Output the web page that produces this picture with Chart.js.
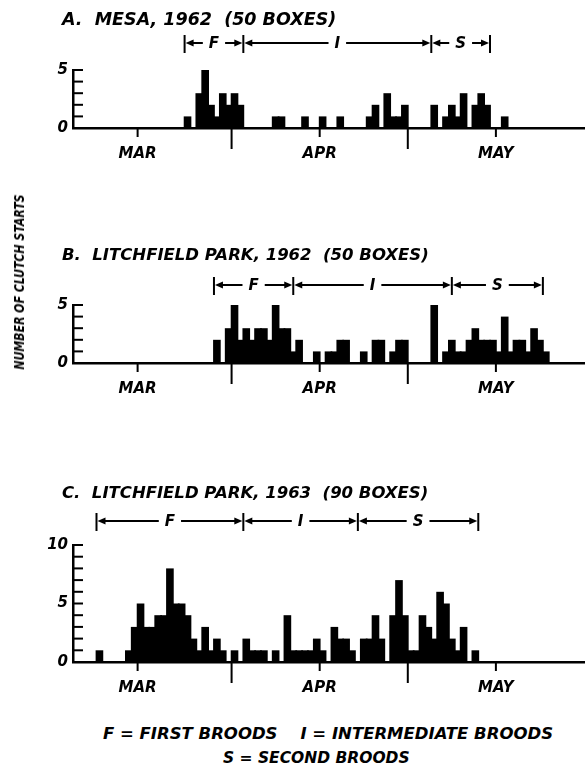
<!DOCTYPE html>
<html>
<head>
<meta charset="utf-8">
<script src="https://cdn.jsdelivr.net/npm/chart.js@4.4.1/dist/chart.umd.min.js"></script>
<style>
    html, body { margin: 0; padding: 0; background: #fff; }
    #page { position: relative; width: 585px; height: 777px; overflow: hidden; color: #000;
            font-family: "DejaVu Sans", sans-serif; font-weight: bold; font-style: italic; }
    canvas { position: absolute; left: 0; }
    .txt { position: absolute; white-space: pre; line-height: 1; }
</style>
</head>
<body>
<div id="page">
    <canvas id="chartMesa62" style="top:0px" width="585" height="170"></canvas>
    <canvas id="chartLitch62" style="top:235px" width="585" height="170"></canvas>
    <canvas id="chartLitch63" style="top:470px" width="585" height="235"></canvas>

    <div class="txt" style="left:62px; top:11px; font-size:17.5px;">A.  MESA, 1962  (50 BOXES)</div>
    <div class="txt" style="left:62px; top:247px; font-size:16.5px;">B.  LITCHFIELD PARK, 1962  (50 BOXES)</div>
    <div class="txt" style="left:62px; top:485px; font-size:16.5px;">C.  LITCHFIELD PARK, 1963  (90 BOXES)</div>

    <div class="txt" style="left:19px; top:282px; font-size:14px; transform: translate(-50%,-50%) rotate(-90deg) scaleX(0.78);">NUMBER OF CLUTCH STARTS</div>

    <div class="txt" style="left:103px; top:726px; font-size:16.5px;">F = FIRST BROODS    I = INTERMEDIATE BROODS</div>
    <div class="txt" style="left:223px; top:751px; font-size:15.5px;">S = SECOND BROODS</div>
</div>

<script>
// days are counted from 1 March (0 = Mar 1, 31 = Apr 1, 61 = May 1)
const firstDay = -11;
const lastDay = 75;
const monthTicks = [0, 31, 61];
const monthNames = ["MAR", "APR", "MAY"];
const midTicks = [16, 46];
const broodLetters = ["F", "I", "S"];

// A. Mesa, 1962
const mesaDays = [8, 10, 11, 12, 13, 14, 15, 16, 17, 23, 24, 28, 31, 34, 39, 40, 42, 43, 44, 45,
    50, 52, 53, 54, 55, 57, 58, 59, 62];
const mesaCounts = [1, 3, 5, 2, 1, 3, 2, 3, 2, 1, 1, 1, 1, 1, 1, 2, 3, 1, 1, 2,
    2, 1, 2, 1, 3, 2, 3, 2, 1];
const mesaBroods = [8, 18, 50, 60];

// B. Litchfield Park, 1962
const litch62Days = [13, 15, 16, 17, 18, 19, 20, 21, 22, 23, 24, 25, 26, 27, 30, 32, 33, 34, 35,
    38, 40, 41, 43, 44, 45, 50, 52, 53, 54, 55, 56, 57, 58, 59, 60, 61, 62, 63, 64, 65, 66, 67, 68, 69];
const litch62Counts = [2, 3, 5, 2, 3, 2, 3, 3, 2, 5, 3, 3, 1, 2, 1, 1, 1, 2, 2,
    1, 2, 2, 1, 2, 2, 5, 1, 2, 1, 1, 2, 3, 2, 2, 2, 1, 4, 1, 2, 2, 1, 3, 2, 1];
const litch62Broods = [13, 26.5, 53.5, 69];

// C. Litchfield Park, 1963
const litch63Days = [-7, -2, -1, 0, 1, 2, 3, 4, 5, 6, 7, 8, 9, 10, 11, 12, 13, 14,
    16, 18, 19, 20, 21, 23, 25, 26, 27, 28, 29, 30, 31, 33, 34, 35, 36, 38, 39, 40, 41,
    43, 44, 45, 46, 47, 48, 49, 50, 51, 52, 53, 54, 55, 57];
const litch63Counts = [1, 1, 3, 5, 3, 3, 4, 4, 8, 5, 5, 4, 2, 1, 3, 1, 2, 1,
    1, 2, 1, 1, 1, 1, 4, 1, 1, 1, 1, 2, 1, 3, 2, 2, 1, 2, 2, 4, 2,
    4, 7, 4, 1, 1, 4, 3, 2, 6, 5, 2, 1, 3, 1];
const litch63Broods = [-7, 18, 37.5, 58];

(function () {
    "use strict";

    const dayLabels = [];
    for (let d = firstDay; d <= lastDay; d++) dayLabels.push(d);

    function dailySeries(days, counts) {
        const out = dayLabels.map(() => null);
        days.forEach((d, i) => { out[d - firstDay] = counts[i]; });
        return out;
    }

    const letterFont = { family: "DejaVu Sans", size: 15, weight: "bold", style: "italic" };

    // tick marks (short at month starts, long at mid month), inward y ticks, brood brackets
    const broodMarks = {
        id: "broodMarks",
        afterDraw(chart, args, opts) {
            const { ctx, chartArea: area, scales: { x, y } } = chart;
            const edge = (d) => x.getPixelForValue(d - firstDay - 0.5);
            const seg = (x0, y0, x1, y1) => {
                ctx.beginPath(); ctx.moveTo(x0, y0); ctx.lineTo(x1, y1); ctx.stroke();
            };
            const arrow = (tip, yy, back) => {
                ctx.beginPath();
                ctx.moveTo(tip, yy);
                ctx.lineTo(tip + back * 8, yy - 3.5);
                ctx.lineTo(tip + back * 8, yy + 3.5);
                ctx.closePath();
                ctx.fill();
            };
            ctx.save();
            ctx.strokeStyle = "#000";
            ctx.fillStyle = "#000";
            ctx.lineWidth = 2;
            monthTicks.forEach((d) => seg(edge(d), area.bottom, edge(d), area.bottom + 9));
            midTicks.forEach((d) => seg(edge(d), area.bottom, edge(d), area.bottom + 21));
            for (let v = 1; v <= y.max; v++) {
                const py = y.getPixelForValue(v);
                seg(area.left, py, area.left + 10, py);
            }

            const by = area.top - opts.lift;
            ctx.font = "italic bold 15px 'DejaVu Sans'";
            ctx.textAlign = "center";
            ctx.textBaseline = "middle";
            opts.marks.forEach((d) => seg(edge(d), by - 8, edge(d), by + 10));
            for (let i = 0; i < broodLetters.length; i++) {
                const x0 = edge(opts.marks[i]);
                const x1 = edge(opts.marks[i + 1]);
                const xm = (x0 + x1) / 2;
                const half = ctx.measureText(broodLetters[i]).width / 2 + 6;
                seg(x0 + 4, by, xm - half, by);
                seg(xm + half, by, x1 - 4, by);
                arrow(x0 + 1, by, 1);
                arrow(x1 - 1, by, -1);
                ctx.fillText(broodLetters[i], xm, by + 1);
            }
            ctx.restore();
        }
    };

    function panel(id, days, counts, broods, yMax, top, plotH, lift) {
        const canvas = document.getElementById(id);
        const axisH = canvas.height - top - plotH;
        return new Chart(canvas, {
            type: "bar",
            data: {
                labels: dayLabels,
                datasets: [{
                    data: dailySeries(days, counts),
                    backgroundColor: "#000",
                    borderWidth: 0,
                    barPercentage: 1.3,
                    categoryPercentage: 1
                }]
            },
            options: {
                responsive: false,
                animation: false,
                layout: { padding: { top: top, right: 1, bottom: 0, left: 0 } },
                plugins: {
                    legend: { display: false },
                    tooltip: { enabled: false },
                    broodMarks: { marks: broods, lift: lift }
                },
                scales: {
                    x: {
                        offset: true,
                        grid: { display: false, drawTicks: false },
                        border: { display: true, color: "#000", width: 2.5 },
                        ticks: {
                            autoSkip: false, maxRotation: 0, minRotation: 0,
                            padding: 17, labelOffset: -3, color: "#000", font: letterFont,
                            callback: (v, i) => {
                                const m = monthTicks.indexOf(dayLabels[i]);
                                return m >= 0 ? monthNames[m] : "";
                            }
                        },
                        afterFit: (s) => {
                            s.height = axisH;
                            s.paddingLeft = 0;
                            s.paddingRight = 0;
                        }
                    },
                    y: {
                        min: 0, max: yMax,
                        grid: { display: false, drawTicks: false },
                        border: { display: true, color: "#000", width: 2.5 },
                        ticks: {
                            stepSize: 1, autoSkip: false, padding: 5, color: "#000", font: letterFont,
                            callback: (v) => (v % 5 === 0 ? String(v) : "")
                        },
                        afterFit: (s) => {
                            s.width = 73;
                            s.paddingTop = 0;
                            s.paddingBottom = 0;
                        }
                    }
                }
            },
            plugins: [broodMarks]
        });
    }

    panel("chartMesa62", mesaDays, mesaCounts, mesaBroods, 5, 70, 58, 27);
    panel("chartLitch62", litch62Days, litch62Counts, litch62Broods, 5, 70, 58, 20);
    panel("chartLitch63", litch63Days, litch63Counts, litch63Broods, 10, 75, 117, 24);
})();
</script>
</body>
</html>
